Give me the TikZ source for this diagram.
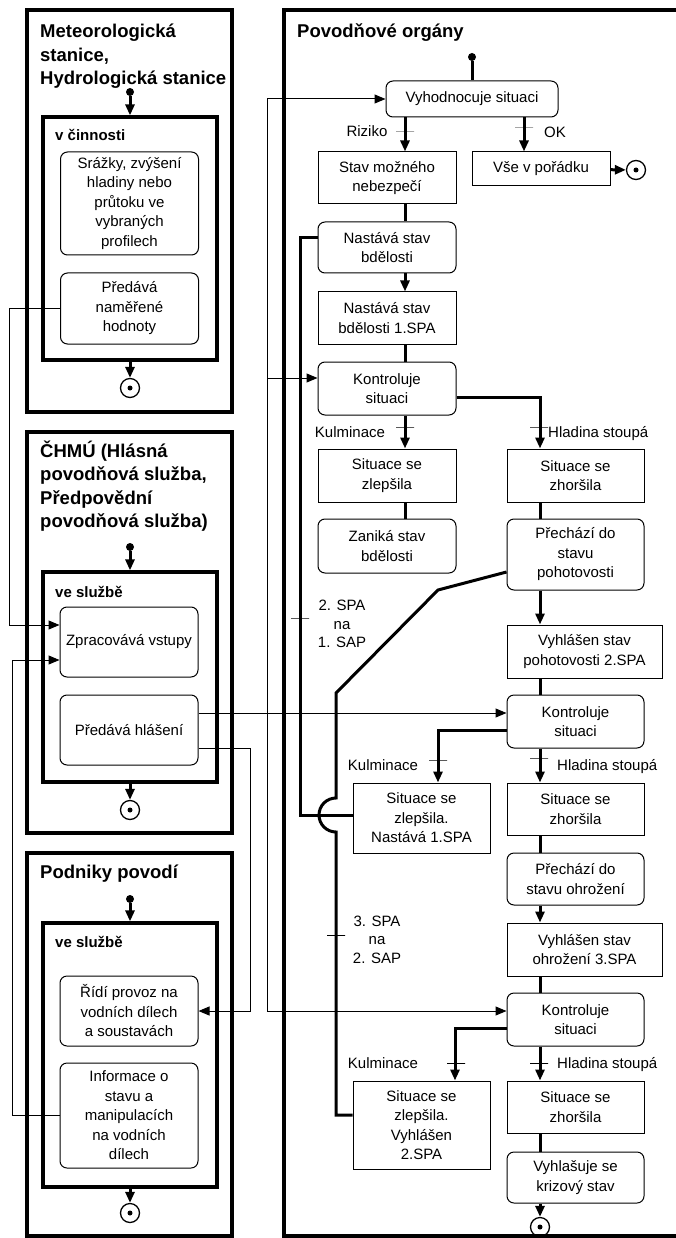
\documentclass[tikz,border=0pt]{standalone}
\usepackage{fontspec}
\setmainfont{Liberation Sans}
\usetikzlibrary{arrows.meta}
\tikzset{
	act/.style={draw, rounded corners=7pt, line width=1pt, align=center, inner sep=1pt, minimum width=138pt},
	st/.style={draw, line width=1pt, align=center, inner sep=1pt, minimum width=138pt},
	lane/.style={draw, line width=3.2pt, inner sep=0pt},
	lanetitle/.style={font=\fontsize{18.5}{23.5}\selectfont\bfseries, align=left, anchor=north west, inner sep=0pt},
	statelabel/.style={font=\fontsize{15}{18}\selectfont\bfseries, anchor=base west, inner sep=0pt},
	flow/.style={line width=3pt},
	msg/.style={line width=1pt},
	guard/.style={draw, line width=1pt, inner sep=0pt, minimum width=18pt, minimum height=0pt},
	guardlabel/.style={anchor=base, inner sep=0pt},
	note/.style={align=center, inner sep=0pt, font=\fontsize{15}{18.5}\selectfont},
	ini/.style={circle, fill, inner sep=0pt, minimum size=8pt},
	fin/.style={circle, draw, line width=1.3pt, inner sep=0pt, minimum size=19pt, path picture={\fill (path picture bounding box.center) circle (2.5pt);}}
}
\begin{document}
\begin{tikzpicture}[x=1pt, y=-1pt, font=\fontsize{15}{19.5}\selectfont, >={Triangle[length=11pt,width=9pt]}]
	\useasboundingbox (0,0) rectangle (675,1238);
	% Meteorologicka stanice
	\node (1)[lane, minimum width=205pt, minimum height=402pt] at (129.5,211) {};
	\node (2)[lane, minimum width=174pt, minimum height=243pt] at (130,238.5) {};
	\node (3)[lanetitle] at (40,24) {Meteorologická\\stanice,\\Hydrologická stanice};
	\node (4)[statelabel] at (55,141) {v činnosti};
	\node (5)[act, minimum height=103pt] at (129.5,203.5) {Srážky, zvýšení\\hladiny nebo\\průtoku ve\\vybraných\\profilech};
	\node (6)[act, minimum height=71pt] at (129.5,308.5) {Předává\\naměřené\\hodnoty};
	\node (7)[ini] at (130,92) {};
	\node (8)[fin] at (130,388) {};
	% CHMU
	\node (9)[lane, minimum width=205pt, minimum height=401pt] at (129.5,632.5) {};
	\node (10)[lane, minimum width=174pt, minimum height=210pt] at (130,677) {};
	\node (11)[lanetitle] at (40,440.5) {ČHMÚ (Hlásná\\povodňová služba,\\Předpovědní\\povodňová služba)};
	\node (12)[statelabel] at (55,597) {ve službě};
	\node (13)[act, minimum height=70pt] at (129,642) {Zpracovává vstupy};
	\node (14)[act, minimum height=70pt] at (129,730) {Předává hlášení};
	\node (15)[ini] at (130,547) {};
	\node (16)[fin] at (130,810) {};
	% Podniky povodi
	\node (17)[lane, minimum width=205pt, minimum height=383pt] at (129.5,1044.5) {};
	\node (18)[lane, minimum width=174pt, minimum height=264pt] at (130,1055) {};
	\node (19)[lanetitle] at (40,865) {Podniky povodí};
	\node (20)[statelabel] at (55,947) {ve službě};
	\node (21)[act, minimum height=70pt] at (129,1011) {Řídí provoz na\\vodních dílech\\a soustavách};
	\node (22)[act, minimum height=105pt] at (129,1115.5) {Informace o\\stavu a\\manipulacích\\na vodních\\dílech};
	\node (23)[ini] at (130,899) {};
	\node (24)[fin] at (130,1213) {};
	% Povodnove organy
	\node (25)[lane, minimum width=394pt, minimum height=1226pt] at (481,623) {};
	\node (26)[lanetitle] at (297,23) {Povodňové orgány};
	\node (27)[ini] at (472,57) {};
	\node (28)[act, minimum width=172pt, minimum height=36pt] at (472,99) {Vyhodnocuje situaci};
	\node (29)[st, minimum height=52pt] at (387,178) {Stav možného\\nebezpečí};
	\node (30)[st, minimum height=34pt] at (541,169) {Vše v pořádku};
	\node (31)[fin] at (636,170) {};
	\node (32)[act, minimum height=51pt] at (387,247.5) {Nastává stav\\bdělosti};
	\node (33)[st, minimum height=52pt] at (387,318) {Nastává stav\\bdělosti 1.SPA};
	\node (34)[act, minimum height=53pt] at (387,388.5) {Kontroluje\\situaci};
	\node (35)[st, minimum height=53pt] at (387,475.5) {Situace se\\zlepšila};
	\node (36)[act, minimum height=54pt] at (387,546) {Zaniká stav\\bdělosti};
	\node (37)[st, minimum width=137pt, minimum height=53pt] at (575.5,475.5) {Situace se\\zhoršila};
	\node (38)[act, minimum width=137pt, minimum height=71pt] at (575.5,554.5) {Přechází do\\stavu\\pohotovosti};
	\node (39)[st, minimum width=155pt, minimum height=53pt] at (584.5,651.5) {Vyhlášen stav\\pohotovosti 2.SPA};
	\node (40)[act, minimum width=137pt, minimum height=53pt] at (575.5,721.5) {Kontroluje\\situaci};
	\node (41)[st, minimum width=137pt, minimum height=70pt] at (421.5,818) {Situace se\\zlepšila.\\Nastává 1.SPA};
	\node (42)[st, minimum width=137pt, minimum height=52pt] at (575.5,809) {Situace se\\zhoršila};
	\node (43)[act, minimum width=137pt, minimum height=52pt] at (575.5,879) {Přechází do\\stavu ohrožení};
	\node (44)[st, minimum width=155pt, minimum height=53pt] at (584.5,949.5) {Vyhlášen stav\\ohrožení 3.SPA};
	\node (45)[act, minimum width=137pt, minimum height=53pt] at (575.5,1019.5) {Kontroluje\\situaci};
	\node (46)[st, minimum width=137pt, minimum height=88pt] at (421.5,1125) {Situace se\\zlepšila.\\Vyhlášen\\2.SPA};
	\node (47)[st, minimum width=137pt, minimum height=52pt] at (575.5,1107) {Situace se\\zhoršila};
	\node (48)[act, minimum width=137pt, minimum height=51pt] at (575.5,1177.5) {Vyhlašuje se\\krizový stav};
	\node (49)[fin] at (540,1227) {};
	% guards
	\node (50)[guard] at (405,132) {};
	\node (51)[guardlabel] at (367,137) {Riziko};
	\node (52)[guard] at (524,128) {};
	\node (53)[guardlabel] at (555,138) {OK};
	\node (54)[guard] at (405,427) {};
	\node (55)[guardlabel] at (350,437) {Kulminace};
	\node (56)[guard] at (539,427) {};
	\node (57)[guardlabel, anchor=base west] at (548,437) {Hladina stoupá};
	\node (58)[guard] at (438,760) {};
	\node (59)[guardlabel] at (383,770) {Kulminace};
	\node (60)[guard] at (539,758) {};
	\node (61)[guardlabel, anchor=base west] at (557,770) {Hladina stoupá};
	\node (62)[guard] at (456,1063) {};
	\node (63)[guardlabel] at (383,1068) {Kulminace};
	\node (64)[guard] at (539,1063) {};
	\node (65)[guardlabel, anchor=base west] at (557,1068) {Hladina stoupá};
	\node (66)[guard] at (300,618) {};
	\node (67)[note] at (342,624) {2. SPA\\na\\1. SAP};
	\node (68)[guard] at (336,935) {};
	\node (69)[note] at (377,939.5) {3. SPA\\na\\2. SAP};
	\coordinate (xa) at (405,0);
	\coordinate (xb) at (524,0);
	\coordinate (xc) at (540,0);
	\coordinate (xe) at (438,0);
	\coordinate (xf) at (455,0);
	\coordinate (m1) at (9,0);
	\coordinate (m2) at (12,0);
	\coordinate (m3) at (250,0);
	\coordinate (bus) at (267,713);
	\coordinate (t1) at (300,815);
	\coordinate (t2) at (336,1115);
	% flows
	\draw[flow,->] (7) -- (2.north);
	\draw[flow,->] (2.south) -- (8);
	\draw[flow,->] (15) -- (10.north);
	\draw[flow,->] (10.south) -- (16);
	\draw[flow,->] (23) -- (18.north);
	\draw[flow,->] (18.south) -- (24);
	\draw[flow] (27) -- (28.north);
	\draw[flow,->] (28.south -| xa) -- (29.north -| xa);
	\draw[flow,->] (28.south -| xb) -- (30.north -| xb);
	\draw[flow,->] (30) -- (31);
	\draw[flow] (29.south -| xa) -- (32.north -| xa);
	\draw[flow,->] (32.south -| xa) -- (33.north -| xa);
	\draw[flow] (33.south -| xa) -- (34.north -| xa);
	\draw[flow,->] (34.south -| xa) -- (35.north -| xa);
	\draw[flow,->] ([yshift=-8.5pt]34.east) -| (37.north -| xc);
	\draw[flow] (35.south -| xa) -- (36.north -| xa);
	\draw[flow] (37.south -| xc) -- (38.north -| xc);
	\draw[flow,->] (38.south -| xc) -- (39.north -| xc);
	\draw[flow] (39.south -| xc) -- (40.north -| xc);
	\draw[flow,->] ([yshift=-8.5pt]40.west) -| (41.north -| xe);
	\draw[flow,->] (40.south -| xc) -- (42.north -| xc);
	\draw[flow] (42.south -| xc) -- (43.north -| xc);
	\draw[flow,->] (43.south -| xc) -- (44.north -| xc);
	\draw[flow] (44.south -| xc) -- (45.north -| xc);
	\draw[flow,->] ([yshift=-8.5pt]45.west) -| (46.north -| xf);
	\draw[flow,->] (45.south -| xc) -- (47.north -| xc);
	\draw[flow] (47.south -| xc) -- (48.north -| xc);
	\draw[flow,->] (48.south -| xc) -- (49);
	\draw[flow] ([yshift=9.5pt]32.west) -| (t1) -- (t1 -| 41.west);
	\draw[flow] ([yshift=-17.5pt]38.west) -- (438,590) -- (336,693) -- (336,798)
		arc[start angle=90, end angle=270, radius=17pt] -- (t2) -- (t2 -| 46.west);
	% messages
	\draw[msg,->] (6.west) -- (6.west -| m1) |- ([yshift=17pt]13.west);
	\draw[msg,->] (22.west) -- (22.west -| m2) |- ([yshift=-18pt]13.west);
	\draw[msg,->] ([yshift=17pt]14.east) -- ([yshift=8.5pt]40.west);
	\draw[msg,->] (bus) |- (28.west);
	\draw[msg,->] (bus) |- ([yshift=10.5pt]34.west);
	\draw[msg,->] (bus) |- ([yshift=8.5pt]45.west);
	\draw[msg,->] ([yshift=-18pt]14.east) -| (21.east -| m3) -- (21.east);
\end{tikzpicture}
\end{document}
